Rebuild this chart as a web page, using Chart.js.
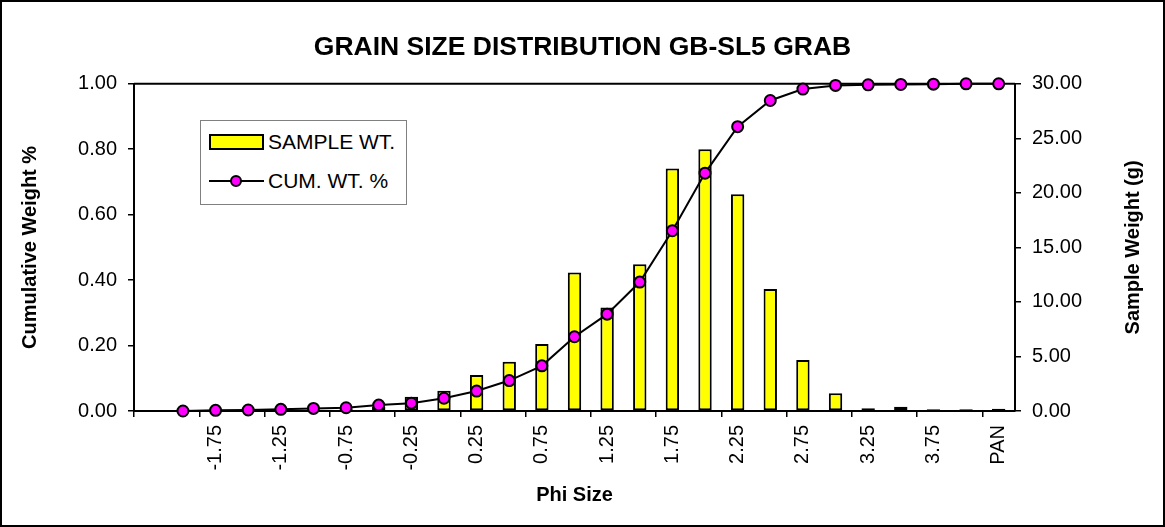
<!DOCTYPE html>
<html>
<head>
<meta charset="utf-8">
<script src="https://cdn.jsdelivr.net/npm/chart.js@4/dist/chart.umd.min.js"></script>
<style>
html,body{margin:0;padding:0;background:#fff;}
#wrap{position:relative;width:1165px;height:527px;overflow:hidden;}
#c{position:absolute;left:0;top:0;}
#legend{position:absolute;left:200px;top:120px;width:207px;height:85px;box-sizing:border-box;border:1px solid #808080;background:#fff;font-family:"Liberation Sans",Arial,sans-serif;font-size:21px;color:#000;}
#legend .sw{position:absolute;left:8px;top:13px;width:55px;height:16px;box-sizing:border-box;border:2px solid #000;background:#FFFF00;}
#legend .ln{position:absolute;left:8px;top:59px;width:55px;height:2px;background:#000;}
#legend .pt{position:absolute;left:29px;top:54px;width:12px;height:12px;box-sizing:border-box;border:2px solid #000;border-radius:50%;background:#FF00FF;}
#legend .tx{position:absolute;left:67px;line-height:24px;white-space:nowrap;}
</style>
</head>
<body>
<div id="wrap">
<canvas id="c" width="1165" height="527"></canvas>
<div id="legend">
  <div class="sw"></div><div class="tx" style="top:9px">SAMPLE WT.</div>
  <div class="ln"></div><div class="pt"></div><div class="tx" style="top:48px">CUM. WT. %</div>
</div>
</div>
<script>
// ---- data ----
const categories = ['', '-2.00', '-1.75', '-1.50', '-1.25', '-1.00', '-0.75', '-0.50', '-0.25', '0.00',
  '0.25', '0.50', '0.75', '1.00', '1.25', '1.50', '1.75', '2.00', '2.25', '2.50', '2.75', '3.00',
  '3.25', '3.50', '3.75', '4.00', 'PAN'];
const sampleWt = [null, 0, 0.02, 0.03, 0.05, 0.10, 0.15, 0.40, 1.30, 1.86,
  3.30, 4.52, 6.15, 12.70, 9.48, 13.45, 22.23, 24.00, 19.88, 11.19, 4.68, 1.62,
  0.25, 0.39, 0.15, 0.15, 0.20];
const cumWt = [null, 0.000, 0.002, 0.003, 0.005, 0.008, 0.010, 0.018, 0.024, 0.039,
  0.061, 0.093, 0.138, 0.227, 0.296, 0.394, 0.551, 0.727, 0.869, 0.949, 0.984, 0.995,
  0.997, 0.998, 0.999, 1.000, 1.000];
const leftTicks = [0, 0.2, 0.4, 0.6, 0.8, 1.0];
const rightTicks = [0, 5, 10, 15, 20, 25, 30];

const FONT = '"Liberation Sans", Arial, sans-serif';
Chart.defaults.font.family = FONT;
Chart.defaults.color = '#000';

const framePlugin = {
  id: 'frame',
  beforeDraw(chart) {
    const ctx = chart.ctx;
    ctx.save();
    ctx.fillStyle = '#fff';
    ctx.fillRect(0, 0, chart.width, chart.height);
    ctx.strokeStyle = '#000';
    ctx.lineWidth = 2;
    ctx.strokeRect(1, 1, chart.width - 2, chart.height - 2);
    ctx.restore();
  },
  beforeDatasetsDraw(chart) {
    const {ctx, chartArea} = chart;
    ctx.save();
    ctx.strokeStyle = '#000';
    ctx.lineWidth = 2;
    ctx.beginPath();
    ctx.moveTo(chartArea.left, chartArea.top);
    ctx.lineTo(chartArea.right, chartArea.top);
    ctx.stroke();
    ctx.restore();
  },
  afterDraw(chart) {
    const {ctx, chartArea} = chart;
    ctx.save();
    ctx.translate(1133, (chartArea.top + chartArea.bottom) / 2);
    ctx.rotate(-Math.PI / 2);
    ctx.font = 'bold 20px ' + FONT;
    ctx.fillStyle = '#000';
    ctx.textAlign = 'center';
    ctx.textBaseline = 'middle';
    ctx.fillText('Sample Weight (g)', 0, 0);
    ctx.restore();
  }
};

new Chart(document.getElementById('c'), {
  data: {
    labels: categories,
    datasets: [
      {
        type: 'line',
        label: 'CUM. WT. %',
        data: cumWt,
        yAxisID: 'y',
        borderColor: '#000',
        borderWidth: 2,
        tension: 0,
        pointRadius: 5.5,
        pointBackgroundColor: '#FF00FF',
        pointBorderColor: '#000',
        pointBorderWidth: 2,
        clip: false,
        order: 0
      },
      {
        type: 'bar',
        label: 'SAMPLE WT.',
        data: sampleWt,
        yAxisID: 'y2',
        backgroundColor: '#FFFF00',
        borderColor: '#000',
        borderWidth: 2,
        borderSkipped: false,
        barPercentage: 0.41,
        categoryPercentage: 1.0,
        order: 1
      }
    ]
  },
  options: {
    responsive: false,
    animation: false,
    devicePixelRatio: 1,
    layout: { padding: { left: 0, right: 0, top: 0, bottom: 0 } },
    plugins: {
      legend: { display: false },
      tooltip: { enabled: false },
      title: {
        display: true,
        text: 'GRAIN SIZE DISTRIBUTION GB-SL5 GRAB',
        color: '#000',
        font: { size: 26.5, weight: 'bold', lineHeight: 1.2 },
        padding: { top: 32, bottom: 20 }
      }
    },
    scales: {
      x: {
        type: 'category',
        offset: true,
        afterFit(s) { s.height = 116; },
        border: { color: '#000', width: 2 },
        grid: {
          offset: true,
          drawOnChartArea: false,
          drawTicks: true,
          tickLength: 6,
          lineWidth: 1.5,
          color: (ctx) => (ctx.index % 2 === 0 ? '#000' : 'rgba(0,0,0,0)')
        },
        ticks: {
          autoSkip: false,
          maxRotation: 90,
          minRotation: 90,
          padding: 8,
          color: '#000',
          font: { size: 20 },
          callback: (v, i) => (i % 2 === 0 ? categories[i] : '')
        },
        title: {
          display: true,
          text: 'Phi Size',
          color: '#000',
          font: { size: 20, weight: 'bold', lineHeight: 1.2 },
          padding: { top: 0, bottom: 20 }
        }
      },
      y: {
        position: 'left',
        min: 0,
        max: 1,
        afterFit(s) { s.width = 134; },
        afterBuildTicks(s) { s.ticks = leftTicks.map(v => ({ value: v })); },
        border: { color: '#000', width: 2 },
        grid: { drawOnChartArea: false, tickLength: 6, color: '#000', lineWidth: 1.5 },
        ticks: {
          padding: 11,
          color: '#000',
          font: { size: 20 },
          callback: (v) => Number(v).toFixed(2)
        },
        title: {
          display: true,
          text: 'Cumulative Weight %',
          color: '#000',
          font: { size: 20, weight: 'bold', lineHeight: 1.2 },
          padding: { top: 18, bottom: 0 }
        }
      },
      y2: {
        position: 'right',
        min: 0,
        max: 30,
        afterFit(s) { s.width = 150; },
        afterBuildTicks(s) { s.ticks = rightTicks.map(v => ({ value: v })); },
        border: { color: '#000', width: 2 },
        grid: { drawOnChartArea: false, tickLength: 6, color: '#000', lineWidth: 1.5 },
        ticks: {
          padding: 11,
          color: '#000',
          font: { size: 20 },
          callback: (v) => Number(v).toFixed(2)
        }
      }
    }
  },
  plugins: [framePlugin]
});
</script>
</body>
</html>
